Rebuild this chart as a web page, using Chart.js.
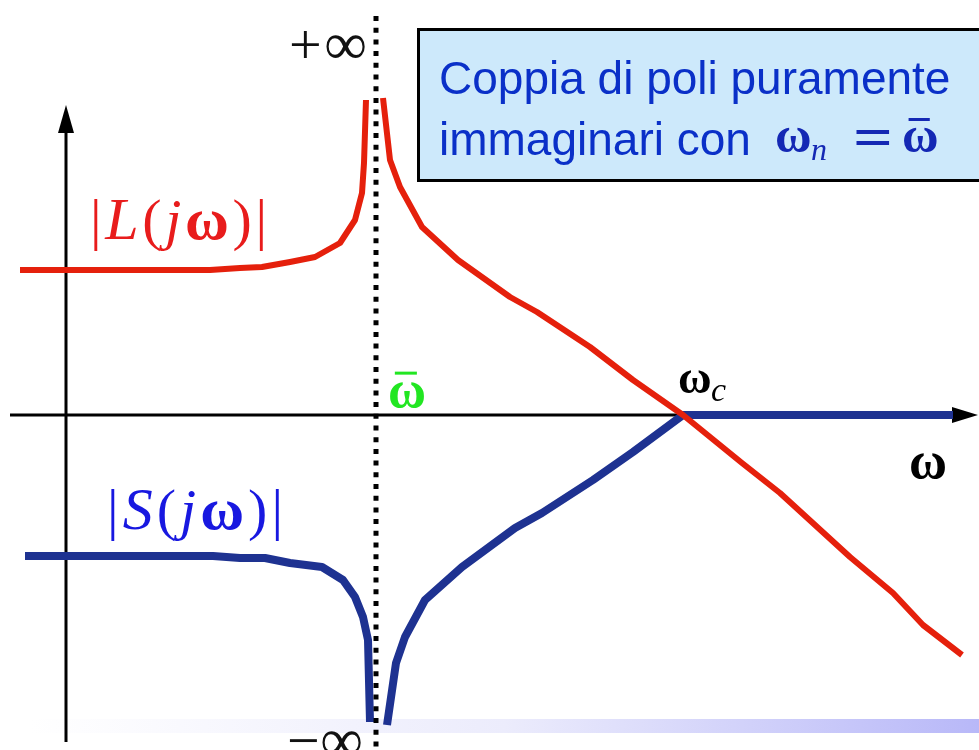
<!DOCTYPE html>
<html>
<head>
<meta charset="utf-8">
<script src="https://cdn.jsdelivr.net/npm/chart.js@4/dist/chart.umd.min.js"></script>
<style>
  html, body { margin: 0; padding: 0; background: #fff; }
  #wrap { width: 979px; height: 750px; }
</style>
</head>
<body>
<div id="wrap"><canvas id="myChart" width="979" height="750"></canvas></div>
<script>
// resonance and crossover frequency (same units as the x scale)
const omegaBar = 3.1;
const omegaC = 6.17;

// |L(jw)| below and above the resonance
const lLowW = [-0.46, 1.44, 1.74, 1.96, 2.24, 2.49, 2.74, 2.89, 2.96, 2.98, 3.00];
const lLowMag = [1.45, 1.45, 1.47, 1.48, 1.53, 1.58, 1.72, 1.95, 2.22, 2.52, 3.15];
const lHighW = [3.17, 3.24, 3.34, 3.56, 3.92, 4.44, 4.71, 5.24, 5.67, 6.17, 6.76, 7.14, 7.84, 8.27, 8.57, 8.96];
const lHighMag = [3.17, 2.55, 2.28, 1.88, 1.55, 1.18, 1.03, 0.68, 0.35, 0.0, -0.48, -0.78, -1.42, -1.78, -2.10, -2.40];

// |S(jw)| below and above the resonance
const sLowW = [-0.41, 1.47, 1.74, 1.99, 2.24, 2.56, 2.77, 2.89, 2.97, 3.02, 3.04];
const sLowMag = [-1.41, -1.41, -1.43, -1.43, -1.48, -1.52, -1.65, -1.82, -2.02, -2.25, -3.07];
const sHighW = [3.21, 3.30, 3.39, 3.59, 3.96, 4.49, 4.76, 5.27, 5.67, 6.17, 8.87];
const sHighMag = [-3.10, -2.48, -2.22, -1.85, -1.52, -1.13, -0.98, -0.65, -0.37, 0.0, 0.0];

const RED = '#e5200c';
const NAVY = '#1e3291';

function pts(xs, ys) {
  return xs.map((x, i) => ({ x: x, y: ys[i] }));
}

function curve(xs, ys, color, width, order) {
  return {
    data: pts(xs, ys),
    showLine: true,
    borderColor: color,
    borderWidth: width,
    pointRadius: 0,
    tension: 0,
    fill: false,
    borderJoinStyle: 'round',
    order: order,
  };
}

// draw a run of text pieces, each with its own font, spreading them to a given width
function drawPieces(ctx, x, y, pieces, width) {
  let natural = 0;
  pieces.forEach(p => { ctx.font = p[1]; natural += ctx.measureText(p[0]).width; });
  const gap = width ? (width - natural) / (pieces.length - 1) : 0;
  let cx = x;
  pieces.forEach(p => {
    ctx.font = p[1];
    ctx.fillText(p[0], cx, y + (p[2] || 0));
    cx += ctx.measureText(p[0]).width + gap;
  });
}

function omegaBarGlyph(ctx, x, y, size, color) {
  ctx.fillStyle = color;
  ctx.font = 'bold ' + size + 'px "Liberation Serif"';
  ctx.fillText('\u03c9', x, y);
  const w = ctx.measureText('\u03c9').width;
  ctx.fillRect(x + w * 0.18, y - size * 0.68, w * 0.58, 3);
}

const serif = s => s + 'px "Liberation Serif"';

const sketch = {
  id: 'sketch',
  beforeDatasetsDraw(chart) {
    const ctx = chart.ctx;
    const xs = chart.scales.x, ys = chart.scales.y;
    const x0 = xs.getPixelForValue(0), y0 = ys.getPixelForValue(0);
    ctx.save();

    // faded band along the bottom
    const g = ctx.createLinearGradient(30, 0, 979, 0);
    g.addColorStop(0, '#ffffff');
    g.addColorStop(0.5, '#ececfc');
    g.addColorStop(1, '#b8b8f8');
    ctx.fillStyle = g;
    ctx.fillRect(30, 719, 949, 14);

    // axes with arrowheads
    ctx.strokeStyle = '#000';
    ctx.fillStyle = '#000';
    ctx.lineWidth = 3;
    ctx.beginPath();
    ctx.moveTo(10, y0); ctx.lineTo(955, y0);
    ctx.moveTo(x0, 742); ctx.lineTo(x0, 130);
    ctx.stroke();
    ctx.beginPath();
    ctx.moveTo(978, y0); ctx.lineTo(952, y0 - 8); ctx.lineTo(952, y0 + 8); ctx.closePath();
    ctx.fill();
    ctx.beginPath();
    ctx.moveTo(x0, 105); ctx.lineTo(x0 - 8, 133); ctx.lineTo(x0 + 8, 133); ctx.closePath();
    ctx.fill();
    ctx.restore();
  },
  afterDatasetsDraw(chart) {
    const ctx = chart.ctx;
    const xs = chart.scales.x, ys = chart.scales.y;
    const xr = xs.getPixelForValue(omegaBar);
    const xc = xs.getPixelForValue(omegaC);
    const y0 = ys.getPixelForValue(0);
    ctx.save();

    // dotted asymptote at the resonance
    ctx.strokeStyle = '#000';
    ctx.lineWidth = 5;
    ctx.setLineDash([5, 6.7]);
    ctx.beginPath();
    ctx.moveTo(xr, 16); ctx.lineTo(xr, 750);
    ctx.stroke();
    ctx.setLineDash([]);

    ctx.textBaseline = 'alphabetic';
    ctx.textAlign = 'left';

    // infinity marks
    ctx.fillStyle = '#111';
    drawPieces(ctx, 289, 64, [['+', serif(58)], ['\u221e', serif(60)]], 78);
    drawPieces(ctx, 287, 760, [['\u2212', serif(58)], ['\u221e', serif(60)]], 76);

    // curve names
    ctx.fillStyle = '#e81c1c';
    drawPieces(ctx, 90, 239, [
      ['|', serif(58)], ['L', 'italic ' + serif(60)], ['(', serif(58)],
      ['j', 'italic ' + serif(58)], ['\u03c9', 'bold ' + serif(60)], [')', serif(58)], ['|', serif(58)],
    ], 177);
    ctx.fillStyle = '#1818e0';
    drawPieces(ctx, 107, 529, [
      ['|', serif(58)], ['S', 'italic ' + serif(60)], ['(', serif(58)],
      ['j', 'italic ' + serif(58)], ['\u03c9', 'bold ' + serif(60)], [')', serif(58)], ['|', serif(58)],
    ], 176);

    // frequency labels
    omegaBarGlyph(ctx, xr + 12, y0 - 8, 52, '#22e622');
    ctx.fillStyle = '#000';
    ctx.font = 'bold 46px "Liberation Serif"';
    ctx.fillText('\u03c9', xc - 5, y0 - 22);
    ctx.font = 'italic 34px "Liberation Serif"';
    ctx.fillText('c', xc + 28, y0 - 14);
    ctx.font = 'bold 52px "Liberation Serif"';
    ctx.fillText('\u03c9', 909, 478);

    // note box
    ctx.fillStyle = '#cde9fb';
    ctx.fillRect(417, 28, 570, 154);
    ctx.strokeStyle = '#000';
    ctx.lineWidth = 3;
    ctx.strokeRect(418.5, 29.5, 570, 151);
    ctx.fillStyle = '#0a30c8';
    ctx.font = '46px "Liberation Sans"';
    ctx.fillText('Coppia di poli puramente', 439, 94);
    ctx.fillText('immaginari con', 439, 155);
    ctx.fillStyle = '#1428b4';
    ctx.font = 'bold 50px "Liberation Serif"';
    ctx.fillText('\u03c9', 775, 152);
    ctx.font = 'italic 32px "Liberation Serif"';
    ctx.fillText('n', 811, 160);
    ctx.font = '52px "DejaVu Serif"';
    ctx.fillText('=', 851, 154);
    omegaBarGlyph(ctx, 902, 152, 50, '#1428b4');
    ctx.restore();
  },
};

const ctx = document.getElementById('myChart').getContext('2d');
const myChart = new Chart(ctx, {
  type: 'scatter',
  data: {
    datasets: [
      curve(lLowW, lLowMag, RED, 6, 0),
      curve(lHighW, lHighMag, RED, 6, 0),
      curve(sLowW, sLowMag, NAVY, 8, 1),
      curve(sHighW, sHighMag, NAVY, 8, 1),
    ],
  },
  options: {
    responsive: false,
    animation: false,
    events: [],
    layout: { padding: 0 },
    scales: {
      x: { type: 'linear', min: -0.66, max: 9.13, display: false },
      y: { type: 'linear', min: -3.35, max: 4.15, display: false },
    },
    plugins: {
      legend: { display: false },
      tooltip: { enabled: false },
    },
  },
  plugins: [sketch],
});
</script>
</body>
</html>
